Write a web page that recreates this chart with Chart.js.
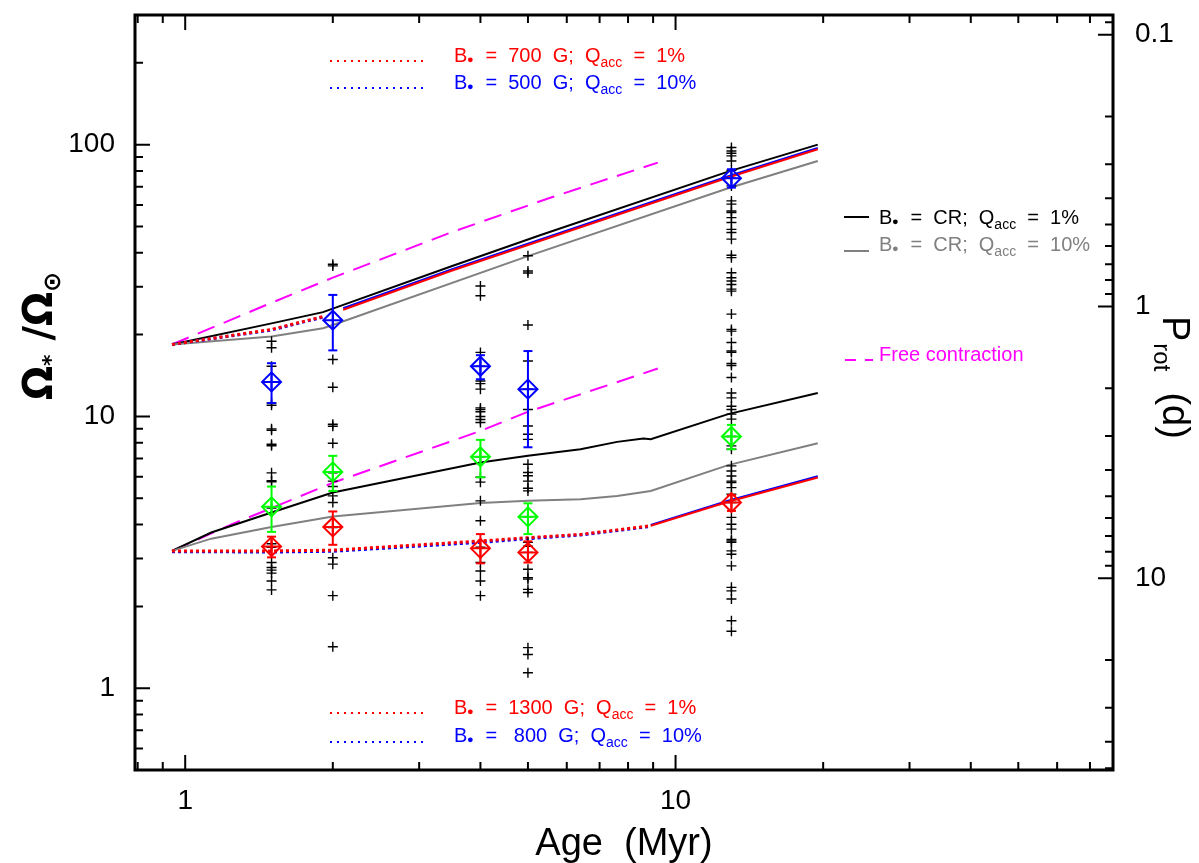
<!DOCTYPE html>
<html>
<head>
<meta charset="utf-8">
<title>Rotational evolution</title>
<script src="https://cdn.jsdelivr.net/npm/chart.js"></script>
<style>
  html, body { margin: 0; padding: 0; background: #fff; }
  #wrap { width: 1199px; height: 863px; }
</style>
</head>
<body>
<div id="wrap"><canvas id="rotChart" width="1199" height="863"></canvas></div>
<script>
// ages in Myr, values in Omega / Omega_sun
const cr1HiAge = [0.94, 1.5, 1.91, 3.48, 5.31, 12.8, 19.5];
const cr1HiVal = [18.4, 22.0, 24.2, 35.6, 46.5, 79.6, 100];
const cr10HiAge = [0.94, 1.5, 1.91, 2.0, 5.0, 12.8, 19.5];
const cr10HiVal = [18.4, 19.7, 21.1, 21.7, 38.9, 69.1, 87.1];
const b700DotAge = [0.94, 1.5, 1.91];
const b700DotVal = [18.4, 20.9, 23.3];
const b700SolAge = [2.1, 3.48, 12.8, 19.5];
const b700SolVal = [24.7, 34.3, 75.7, 96.2];
const b500DotVal = [18.4, 20.8, 23.2];
const b500SolVal = [25.0, 34.7, 76.6, 97.3];

const cr1LoAge = [0.94, 1.13, 1.5, 2.0, 4.0, 5.0, 6.4, 7.6, 8.6, 8.9, 12.8, 19.5];
const cr1LoVal = [3.2, 3.74, 4.43, 5.25, 6.77, 7.16, 7.57, 8.06, 8.29, 8.25, 10.2, 12.2];
const cr10LoAge = [0.94, 1.13, 1.5, 2.0, 4.0, 5.0, 6.4, 7.6, 8.9, 12.8, 19.5];
const cr10LoVal = [3.2, 3.55, 3.92, 4.28, 4.8, 4.89, 4.96, 5.1, 5.32, 6.62, 7.97];
const b1300DotAge = [0.94, 1.5, 2.0, 4.0, 5.0, 6.4, 8.9];
const b1300DotVal = [3.2, 3.2, 3.22, 3.48, 3.58, 3.68, 3.96];
const b800DotVal = [3.18, 3.17, 3.19, 3.44, 3.55, 3.66, 3.94];
const b1300SolAge = [8.9, 12.8, 19.5];
const b1300SolVal = [3.96, 4.85, 5.96];
const b800SolVal = [3.99, 4.9, 6.02];

const fcHiAge = [0.94, 1.5, 2.0, 3.48, 5.57, 9.2];
const fcHiVal = [18.4, 26.2, 32.4, 47.5, 63.9, 85.9];
const fcLoAge = [0.94, 1.24, 1.5, 2.0, 4.0, 5.0, 9.2];
const fcLoVal = [3.2, 4.0, 4.6, 5.7, 8.84, 10.4, 15.0];

// cluster percentiles
const obsAge = [1.5, 2, 4, 5, 13];
const upperVal = [13.4, 22.6, 15.3, 12.6, 75.2];
const upperHi = [15.7, 28.0, 16.8, 17.4, 81.2];
const upperLo = [11.2, 17.5, 13.7, 7.7, 69.5];
const medianVal = [4.65, 6.25, 7.1, 4.27, 8.44];
const medianHi = [5.52, 7.16, 8.2, 4.79, 9.31];
const medianLo = [3.76, 5.32, 5.97, 3.69, 7.57];
const lowerVal = [3.32, 3.92, 3.27, 3.16, 4.82];
const lowerHi = [3.61, 4.47, 3.69, 3.47, 5.13];
const lowerLo = [3.03, 3.37, 2.88, 2.90, 4.49];

// individual stars per cluster
const stars1p5 = [18.9, 17.9, 15.3, 11.2, 11.0, 9.0, 8.9, 7.9, 7.8, 6.2, 5.8, 5.75, 4.6, 3.4, 3.3, 2.9, 2.78, 2.72, 2.65, 2.48, 2.3];
const stars2 = [36.3, 35.8, 16.2, 12.8, 9.36, 9.2, 7.97, 6.2, 5.78, 5.52, 5.1, 4.82, 3.9, 3.02, 2.86, 2.19, 1.42];
const stars4 = [30.2, 27.8, 17.2, 15.3, 13.5, 13.2, 12.6, 10.75, 10.6, 10.4, 10.0, 9.74, 9.5, 7.1, 5.97, 5.73, 4.89, 4.13, 3.3, 2.9, 2.7, 2.48, 2.19];
const stars5 = [39.0, 34.3, 33.7, 21.7, 16.0, 12.6, 10.6, 9.22, 8.6, 8.23, 6.67, 6.22, 6.05, 5.78, 5.44, 5.32, 4.27, 3.44, 3.33, 3.16, 2.74, 2.55, 2.52, 2.31, 2.25, 1.41, 1.33, 1.14];
const stars13 = [97.6, 94.8, 93.0, 90.9, 87.1, 80.5, 75.2, 70.5, 62.1, 60.4, 57.0, 56.3, 53.9, 51.7, 48.8, 47.5, 44.9, 39.2, 38.4, 33.8, 32.4, 31.5, 30.6, 29.4, 28.9, 23.8, 20.9, 20.6, 18.7, 17.4, 17.2, 15.65, 15.4, 13.9, 12.2, 11.7, 10.9, 10.6, 10.2, 9.77, 8.44, 7.79, 7.57, 6.58, 6.3, 6.04, 5.78, 5.71, 5.47, 5.17, 4.82, 4.25, 4.01, 3.85, 3.53, 3.48, 3.44, 3.2, 3.11, 2.82, 2.35, 2.28, 2.13, 1.77, 1.62];

// axes
const xMin = 0.79, xMax = 78;
const yMin = 0.5, yMax = 300;
const P_SUN = 25.4;             // P_rot (d) = P_SUN / (Omega/Omega_sun)
const xTickVals = [1, 10];
const yTickVals = [1, 10, 100];
const pTickVals = [0.1, 1, 10];

const RED = '#ff0000', BLUE = '#0000ff', GREEN = '#00ff00', MAG = '#ff00ff', GRAY = '#808080';
const DOT = [3, 3], DASH = [18, 10];

function pts(ages, vals) { return ages.map((a, i) => ({ x: a, y: vals[i] })); }

function track(ages, vals, color, dash, width, order) {
    return { data: pts(ages, vals), showLine: true, borderColor: color, borderWidth: width,
             borderDash: dash, borderCapStyle: 'butt', pointRadius: 0, order: order };
}

const datasets = [
    track(fcHiAge, fcHiVal, MAG, DASH, 2, 9),
    track(fcLoAge, fcLoVal, MAG, DASH, 2, 9),
    track(cr10HiAge, cr10HiVal, GRAY, [], 2, 8),
    track(cr10LoAge, cr10LoVal, GRAY, [], 2, 8),
    track(cr1HiAge, cr1HiVal, '#000', [], 2, 8),
    track(cr1LoAge, cr1LoVal, '#000', [], 2, 8),
    track(b700DotAge, b500DotVal, BLUE, DOT, 3, 7),
    track(b700SolAge, b500SolVal, BLUE, [], 2, 7),
    track(b1300DotAge, b800DotVal, BLUE, DOT, 3, 7),
    track(b1300SolAge, b800SolVal, BLUE, [], 2, 7),
    track(b700DotAge, b700DotVal, RED, DOT, 3, 6),
    track(b700SolAge, b700SolVal, RED, [], 2, 6),
    track(b1300DotAge, b1300DotVal, RED, DOT, 3, 6),
    track(b1300SolAge, b1300SolVal, RED, [], 2, 6)
];

// black crosses
const starCols = [stars1p5, stars2, stars4, stars5, stars13];
const starPts = [];
starCols.forEach((col, i) => col.forEach(v => starPts.push({ x: obsAge[i], y: v })));
datasets.push({ data: starPts, pointStyle: 'cross', pointRadius: 5, pointBorderWidth: 1.4,
                borderColor: '#000', order: 5 });

// percentile diamonds with error bars
const groups = [
    { val: upperVal, hi: upperHi, lo: upperLo, color: BLUE },
    { val: medianVal, hi: medianHi, lo: medianLo, color: GREEN },
    { val: lowerVal, hi: lowerHi, lo: lowerLo, color: RED }
];
groups.forEach(g => {
    obsAge.forEach((a, i) => {
        datasets.push({ data: [{ x: a, y: g.lo[i] }, { x: a, y: g.hi[i] }], showLine: true,
                        borderColor: g.color, borderWidth: 2, pointStyle: 'line', pointRadius: 4.5,
                        pointBorderWidth: 2, order: 3 });
    });
    datasets.push({ data: pts(obsAge, g.val), pointStyle: 'rectRot', pointRadius: 9.5,
                    pointBorderWidth: 2, borderColor: g.color, backgroundColor: 'rgba(0,0,0,0)', order: 2 });
    datasets.push({ data: pts(obsAge, g.val), pointStyle: 'cross', pointRadius: 9.5,
                    pointBorderWidth: 2, borderColor: g.color, order: 2 });
});

function logTicks(lo, hi) {
    const out = [];
    for (let e = -3; e <= 3; e++) {
        for (let m = 1; m < 10; m++) {
            const v = +(m * Math.pow(10, e)).toPrecision(3);
            if (v > lo * 1.0001 && v < hi / 1.0001) out.push({ v: v, major: m === 1 });
        }
    }
    return out;
}

const framePlugin = {
    id: 'frame',
    afterDraw(chart) {
        const { ctx, chartArea: a, scales } = chart;
        ctx.save();
        ctx.strokeStyle = '#000';
        ctx.lineWidth = 2;
        ctx.beginPath();
        logTicks(xMin, xMax).forEach(t => {
            const px = scales.x.getPixelForValue(t.v), L = t.major ? 15 : 8;
            ctx.moveTo(px, a.bottom); ctx.lineTo(px, a.bottom - L);
            ctx.moveTo(px, a.top); ctx.lineTo(px, a.top + L);
        });
        logTicks(yMin, yMax).forEach(t => {
            const py = scales.y.getPixelForValue(t.v), L = t.major ? 15 : 8;
            ctx.moveTo(a.left, py); ctx.lineTo(a.left + L, py);
        });
        logTicks(P_SUN / yMax, P_SUN / yMin).forEach(t => {
            const py = scales.y2.getPixelForValue(t.v), L = t.major ? 15 : 8;
            ctx.moveTo(a.right, py); ctx.lineTo(a.right - L, py);
        });
        ctx.stroke();
        ctx.lineWidth = 3;
        ctx.strokeRect(a.left, a.top, a.right - a.left, a.bottom - a.top);
        ctx.restore();
    }
};

// text with a subscript "acc" and a dot for the star symbol
function richText(ctx, x, y, parts, color) {
    ctx.fillStyle = color;
    ctx.textBaseline = 'alphabetic';
    ctx.textAlign = 'left';
    parts.forEach(p => {
        if (p === '.') {
            ctx.beginPath();
            ctx.arc(x + 3, y - 2.2, 2.4, 0, 2 * Math.PI);
            ctx.fill();
            x += 7;
            return;
        }
        const sub = p.charAt(0) === '_';
        const t = sub ? p.slice(1) : p;
        ctx.font = sub ? '14px "Liberation Sans"' : '20px "Liberation Sans"';
        ctx.fillText(t, x, sub ? y + 5 : y);
        x += ctx.measureText(t).width;
    });
}

function sample(ctx, x0, x1, y, color, dash, width) {
    ctx.save();
    ctx.strokeStyle = color;
    ctx.lineWidth = width;
    ctx.setLineDash(dash);
    ctx.beginPath();
    ctx.moveTo(x0, y); ctx.lineTo(x1, y);
    ctx.stroke();
    ctx.restore();
}

const textPlugin = {
    id: 'labels',
    afterDraw(chart) {
        const { ctx, chartArea: a } = chart;
        ctx.save();
        // legends
        sample(ctx, 330, 428, 61, RED, [2, 5], 2);
        richText(ctx, 454, 62, ['B', '.', '  =  700  G;  Q', '_acc', '  =  1%'], RED);
        sample(ctx, 330, 428, 88, BLUE, [2, 5], 2);
        richText(ctx, 454, 89, ['B', '.', '  =  500  G;  Q', '_acc', '  =  10%'], BLUE);
        sample(ctx, 330, 428, 713, RED, [2, 5], 2);
        richText(ctx, 454, 714, ['B', '.', '  =  1300  G;  Q', '_acc', '  =  1%'], RED);
        sample(ctx, 330, 428, 742, BLUE, [2, 5], 2);
        richText(ctx, 454, 742, ['B', '.', '  =   800  G;  Q', '_acc', '  =  10%'], BLUE);
        sample(ctx, 844, 869, 217, '#000', [], 2);
        richText(ctx, 879, 224, ['B', '.', '  =  CR;  Q', '_acc', '  =  1%'], '#000');
        sample(ctx, 844, 869, 251, GRAY, [], 2);
        richText(ctx, 879, 251, ['B', '.', '  =  CR;  Q', '_acc', '  =  10%'], GRAY);
        sample(ctx, 845, 873, 360, MAG, [11, 9], 2);
        richText(ctx, 879, 361, ['Free contraction'], MAG);

        // x title
        ctx.fillStyle = '#000';
        ctx.font = '38px "Liberation Sans"';
        ctx.textAlign = 'center';
        ctx.fillText('Age  (Myr)', (a.left + a.right) / 2, 855);

        // left title
        ctx.save();
        ctx.translate(52, 400);
        ctx.rotate(-Math.PI / 2);
        ctx.textAlign = 'left';
        let x = 0;
        ctx.font = 'bold 40px "DejaVu Sans"';
        ctx.fillText('\u03A9', x, 0); x += ctx.measureText('\u03A9').width;
        ctx.font = 'bold 22px "DejaVu Sans"';
        ctx.fillText('*', x, 6); x += ctx.measureText('*').width;
        ctx.font = 'bold 40px "DejaVu Sans"';
        ctx.fillText(' /\u03A9', x, 0); x += ctx.measureText(' /\u03A9').width;
        ctx.font = 'bold 24px "DejaVu Sans"';
        ctx.fillText('\u2299', x, 8);
        ctx.restore();

        // right title
        ctx.save();
        ctx.translate(1163, 316);
        ctx.rotate(Math.PI / 2);
        ctx.textAlign = 'left';
        x = 0;
        ctx.font = '38px "Liberation Sans"';
        ctx.fillText('P', x, 0); x += ctx.measureText('P').width + 2;
        ctx.font = '24px "Liberation Sans"';
        ctx.fillText('rot', x, 9); x += ctx.measureText('rot').width;
        ctx.font = '38px "Liberation Sans"';
        ctx.fillText('  (d)', x, 0);
        ctx.restore();

        ctx.restore();
    }
};

const tickFont = { family: '"Liberation Sans"', size: 28 };

function fitY(width) {
    return s => { s.width = width; s.paddingTop = 0; s.paddingBottom = 0; };
}

new Chart(document.getElementById('rotChart').getContext('2d'), {
    type: 'scatter',
    data: { datasets: datasets },
    options: {
        responsive: false,
        animation: false,
        events: [],
        layout: { padding: { top: 15, left: 0, right: 0, bottom: 0 } },
        plugins: { legend: { display: false }, tooltip: { enabled: false } },
        scales: {
            x: {
                type: 'logarithmic', min: xMin, max: xMax,
                grid: { display: false, drawTicks: false }, border: { display: false },
                afterBuildTicks: s => { s.ticks = xTickVals.map(v => ({ value: v })); },
                afterFit: s => { s.height = 93; s.paddingLeft = 0; s.paddingRight = 0; },
                ticks: { callback: v => String(v), font: tickFont, color: '#000', padding: 14,
                         autoSkip: false, maxRotation: 0 }
            },
            y: {
                type: 'logarithmic', position: 'left', min: yMin, max: yMax,
                grid: { display: false, drawTicks: false }, border: { display: false },
                afterBuildTicks: s => { s.ticks = yTickVals.map(v => ({ value: v })); },
                afterFit: fitY(135),
                ticks: { callback: v => String(v), font: tickFont, color: '#000', padding: 20, autoSkip: false }
            },
            y2: {
                type: 'logarithmic', position: 'right', reverse: true,
                min: P_SUN / yMax, max: P_SUN / yMin,
                grid: { display: false, drawTicks: false }, border: { display: false },
                afterBuildTicks: s => { s.ticks = pTickVals.map(v => ({ value: v })); },
                afterFit: fitY(86),
                ticks: { callback: v => String(v), font: tickFont, color: '#000', padding: 22, autoSkip: false }
            }
        }
    },
    plugins: [framePlugin, textPlugin]
});
</script>
</body>
</html>
